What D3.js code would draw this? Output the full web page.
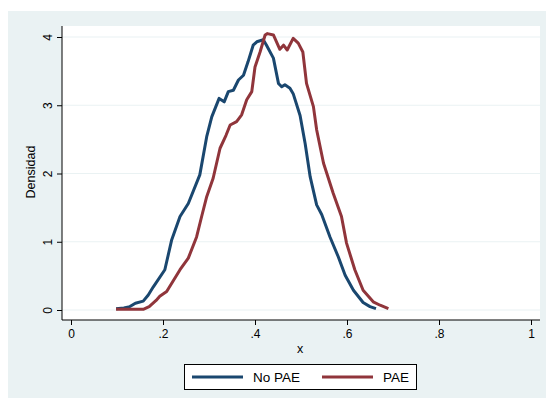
<!DOCTYPE html>
<html>
<head>
<meta charset="utf-8">
<script src="https://cdn.jsdelivr.net/npm/d3@7"></script>
<style>
body { margin: 0; background: #fff; }
text { font-family: "Liberation Sans", Arial, sans-serif; }
</style>
</head>
<body>
<svg id="graph"></svg>
<script>
// density estimates
var noPaeX = [0.098,0.115,0.128,0.140,0.157,0.168,0.179,0.204,0.219,0.237,0.255,0.280,0.295,0.306,0.322,0.333,0.342,0.353,0.364,0.375,0.385,0.396,0.404,0.418,0.425,0.440,0.451,0.458,0.465,0.476,0.483,0.498,0.509,0.520,0.534,0.545,0.563,0.581,0.596,0.614,0.635,0.650,0.663]
var noPaeY = [0.02,0.03,0.05,0.10,0.13,0.22,0.34,0.59,1.03,1.37,1.56,1.98,2.54,2.83,3.10,3.05,3.20,3.22,3.37,3.44,3.64,3.88,3.93,3.96,3.88,3.69,3.32,3.27,3.30,3.25,3.17,2.85,2.44,1.95,1.54,1.40,1.07,0.78,0.51,0.29,0.11,0.05,0.02]

var paeX = [0.098,0.130,0.157,0.170,0.185,0.193,0.208,0.237,0.255,0.273,0.284,0.295,0.309,0.324,0.337,0.346,0.360,0.371,0.382,0.393,0.400,0.411,0.422,0.427,0.440,0.454,0.462,0.470,0.483,0.494,0.504,0.512,0.527,0.534,0.549,0.570,0.588,0.599,0.617,0.635,0.657,0.672,0.690]
var paeY = [0.01,0.01,0.01,0.05,0.14,0.20,0.27,0.59,0.76,1.07,1.37,1.66,1.93,2.37,2.56,2.71,2.76,2.86,3.08,3.20,3.56,3.78,4.03,4.05,4.03,3.82,3.88,3.81,3.98,3.91,3.78,3.32,2.98,2.64,2.15,1.71,1.37,0.98,0.59,0.29,0.12,0.07,0.02]

var xTicks = [0,0.2,0.4,0.6,0.8,1]
var yTicks = [0,1,2,3,4]

var series = [
	{name:'No PAE', xs:noPaeX, ys:noPaeY, color:'#1a476f'},
	{name:'PAE', xs:paeX, ys:paeY, color:'#90353b'}
]

var svg = d3.select('#graph')
	.attr('width',550)
	.attr('height',402)

//outer background
svg.append('rect')
	.attr('x',8).attr('y',11)
	.attr('width',538).attr('height',387)
	.attr('fill','#eaf2f3')

//plot region
var plot = {left:62, right:540, top:26, bottom:320}
svg.append('rect')
	.attr('x',plot.left).attr('y',plot.top)
	.attr('width',plot.right-plot.left).attr('height',plot.bottom-plot.top)
	.attr('fill','#fff')

//scales
var x = d3.scaleLinear().domain([0,1]).range([71,531])
var y = d3.scaleLinear().domain([0,4]).range([310,37])

//gridlines
svg.selectAll('.grid')
	.data(yTicks)
	.enter()
	.append('line')
	.attr('class','grid')
	.attr('x1',plot.left).attr('x2',plot.right)
	.attr('y1',function(d){ return y(d) })
	.attr('y2',function(d){ return y(d) })
	.attr('stroke','#eaf2f3')
	.attr('stroke-width',1.2)

//axes
var xaxis = svg.append('g')
	.attr('transform','translate(0,'+plot.bottom+')')
	.call(d3.axisBottom(x).tickValues(xTicks).tickSize(5).tickPadding(4)
		.tickFormat(function(d){ return d===0||d===1 ? String(d) : d3.format('.1f')(d).replace(/^0/,'') }))
xaxis.select('.domain').attr('d','M'+plot.left+',0H'+plot.right)

var yaxis = svg.append('g')
	.attr('transform','translate('+plot.left+',0)')
	.call(d3.axisLeft(y).tickValues(yTicks).tickSize(5).tickFormat(d3.format('d')))
yaxis.select('.domain').attr('d','M0,'+plot.top+'V'+plot.bottom)
yaxis.selectAll('.tick text')
	.attr('x',0).attr('dy',null)
	.attr('text-anchor','middle')
	.attr('transform','translate(-13,0) rotate(-90)')
	.attr('dominant-baseline','middle')

svg.selectAll('.tick text').attr('font-size',12).attr('fill','#000')
svg.selectAll('.domain, .tick line').attr('stroke','#000')

//axis titles
svg.append('text')
	.attr('transform','translate(35,172) rotate(-90)')
	.attr('text-anchor','middle')
	.attr('font-size',12.5)
	.text('Densidad')
svg.append('text')
	.attr('x',300).attr('y',353)
	.attr('text-anchor','middle')
	.attr('font-size',12.5)
	.text('x')

//lines
var line = d3.line()
	.x(function(d){ return x(d[0]) })
	.y(function(d){ return y(d[1]) })

svg.selectAll('.curve')
	.data(series)
	.enter()
	.append('path')
	.attr('class','curve')
	.attr('d',function(s){ return line(d3.zip(s.xs,s.ys)) })
	.attr('fill','none')
	.attr('stroke',function(s){ return s.color })
	.attr('stroke-width',3)
	.attr('stroke-linejoin','round')

//legend
svg.append('rect')
	.attr('x',184.5).attr('y',364.5)
	.attr('width',232).attr('height',25)
	.attr('fill','#fff').attr('stroke','#000').attr('stroke-width',1)
var items = svg.selectAll('.leg')
	.data(series)
	.enter()
	.append('g')
	.attr('transform',function(d,i){ return 'translate('+(192+i*130)+',377)' })
items.append('line')
	.attr('x1',0).attr('x2',51)
	.attr('stroke',function(d){ return d.color })
	.attr('stroke-width',3)
items.append('text')
	.attr('x',61).attr('y',5)
	.attr('font-size',13.5)
	.text(function(d){ return d.name })
</script>
</body>
</html>
